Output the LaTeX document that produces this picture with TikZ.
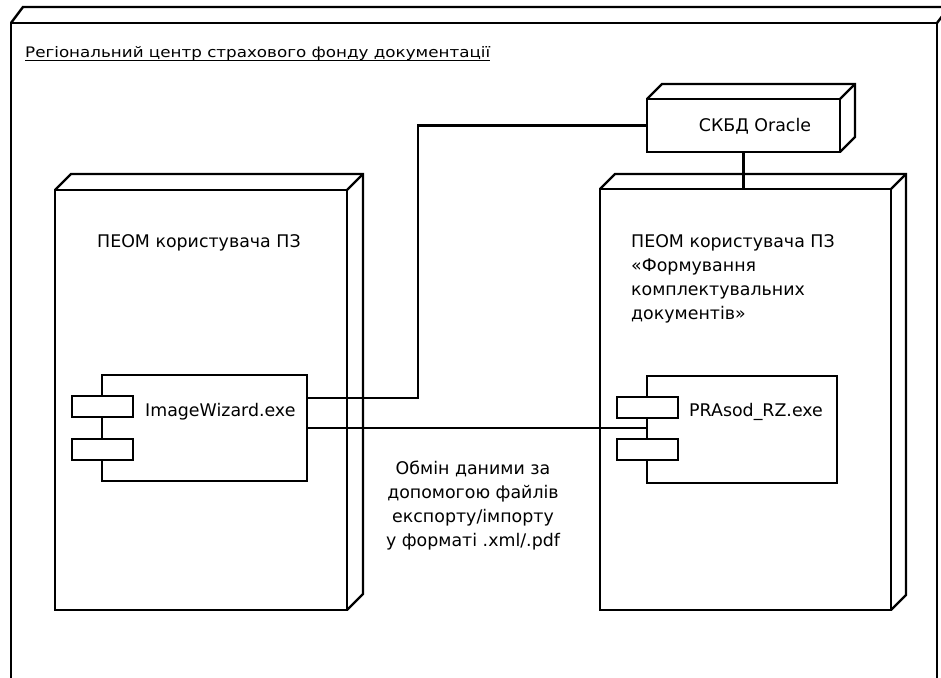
\documentclass[tikz,border=0pt]{standalone}
\usepackage{fontspec}
\setmainfont{DejaVu Sans}
\usepackage{graphicx}
\newcommand\deepbox[3]{%
  \draw[line width=2.4pt, line join=miter] (#1.north west) -- ++(#2,-#3)
    -- ([shift={(#2,-#3)}]#1.north east) -- ([shift={(#2,-#3)}]#1.south east) -- (#1.south east);
  \draw[line width=2.4pt] (#1.north east) -- ++(#2,-#3);}
\begin{document}
\begin{tikzpicture}[x=1pt,y=-1pt,
  box/.style={draw, line width=2.4pt, inner sep=0pt, outer sep=0pt, fill=white},
  lbl/.style={font=\fontsize{17.4}{24}\selectfont, inner sep=0pt, align=left},
  wire/.style={draw, line width=2.4pt}]
\clip (0,0) rectangle (941,677);
\fill[white] (0,0) rectangle (941,677);
% outer node
\node[box, minimum width=926pt, minimum height=700pt, anchor=north west] (outer) at (11,23) {};
\deepbox{outer}{12}{16}
\node[inner sep=0pt, anchor=base west] (title) at (25,57)
  {\resizebox{465pt}{\height}{\fontsize{14.5}{14.5}\selectfont Регіональний центр страхового фонду документації}};
\draw[line width=1.6pt] ([yshift=-3.5pt]title.base west) -- ([yshift=-3.5pt]title.base east);
% nodes
\node[box, minimum width=292pt, minimum height=420pt, anchor=north west] (lnode) at (55,190) {};
\deepbox{lnode}{16}{16}
\node[box, minimum width=291pt, minimum height=421pt, anchor=north west] (rnode) at (600,189) {};
\deepbox{rnode}{15}{15}
\node[box, minimum width=193pt, minimum height=53pt, anchor=north west] (oracle) at (647,99) {};
\deepbox{oracle}{15}{15}
\node[lbl, anchor=center] (otext) at (755,126) {СКБД Oracle};
% labels
\node[lbl, anchor=base west] (llabel) at (97,247) {ПЕОМ користувача ПЗ};
\node[lbl, anchor=base west] (rlabel) at (631,319) {ПЕОМ користувача ПЗ\\«Формування\\комплектувальних\\документів»};
% components
\node[box, minimum width=205pt, minimum height=106pt, anchor=north west] (iw) at (102,375) {};
\node[box, minimum width=61pt, minimum height=21pt] (iwa) at (102.5,406.5) {};
\node[box, minimum width=61pt, minimum height=21pt] (iwb) at (102.5,449.5) {};
\node[lbl, anchor=base west] (iwt) at (145,416) {ImageWizard.exe};
\node[box, minimum width=190pt, minimum height=107pt, anchor=north west] (prc) at (647,376) {};
\node[box, minimum width=61pt, minimum height=21pt] (prca) at (647.5,407.5) {};
\node[box, minimum width=61pt, minimum height=21pt] (prcb) at (647.5,449.5) {};
\node[lbl, anchor=base west] (prct) at (689,416) {PRAsod\_RZ.exe};
% connectors
\draw[wire] ([yshift=30pt]iw.east) -- ++(111,0) |- (oracle.west);
\draw[wire] (iw.east) -- (iw.east -| prc.west);
\draw[wire] (oracle.south) -- (oracle.south |- rnode.north);
% exchange text
\node[lbl, align=center, anchor=base] (ex) at (473,546) {Обмін даними за\\допомогою файлів\\експорту/імпорту\\у форматі .xml/.pdf};
\end{tikzpicture}
\end{document}
